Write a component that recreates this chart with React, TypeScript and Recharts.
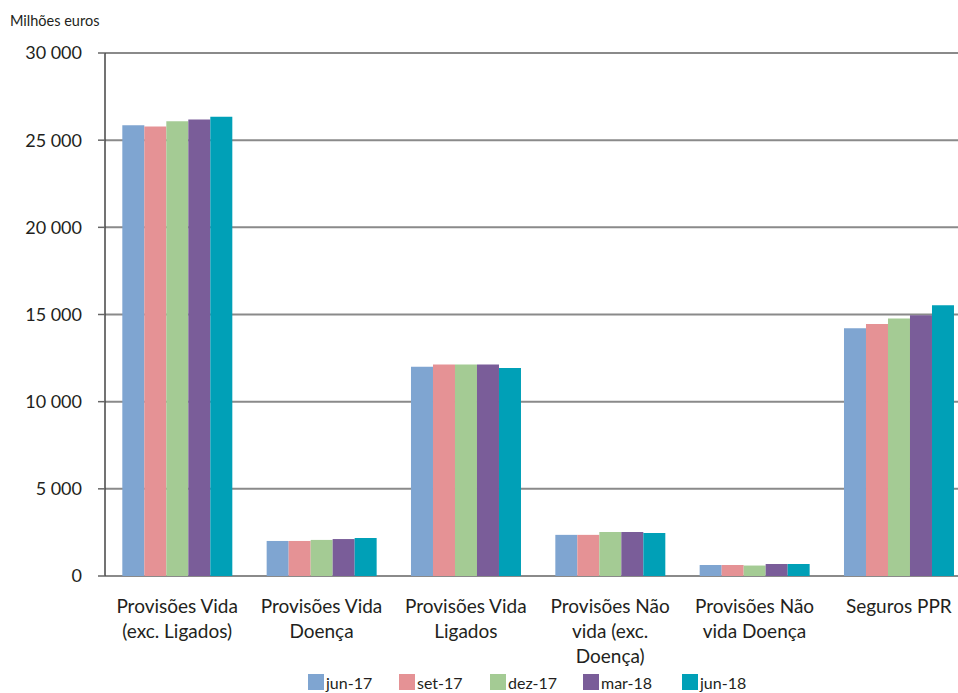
import React from 'react';
import {
  BarChart,
  Bar,
  XAxis,
  YAxis,
  CartesianGrid,
  Legend,
} from 'recharts';

const categories = [
  'Provisões Vida\n(exc. Ligados)',
  'Provisões Vida\nDoença',
  'Provisões Vida\nLigados',
  'Provisões Não\nvida (exc.\nDoença)',
  'Provisões Não\nvida Doença',
  'Seguros PPR',
];

const jun17 = [25850, 2010, 12010, 2360, 630, 14210];
const set17 = [25780, 2010, 12130, 2360, 630, 14460];
const dez17 = [26090, 2070, 12130, 2530, 600, 14770];
const mar18 = [26180, 2120, 12130, 2530, 690, 14960];
const jun18 = [26350, 2180, 11930, 2470, 690, 15530];

const yTicks = [0, 5000, 10000, 15000, 20000, 25000, 30000];
const edgeTicks = [0, 1, 2, 3, 4, 5, 6];

const series = [
  { key: 'jun17', name: 'jun-17', color: '#7fa5d1', values: jun17 },
  { key: 'set17', name: 'set-17', color: '#e59295', values: set17 },
  { key: 'dez17', name: 'dez-17', color: '#a4cb94', values: dez17 },
  { key: 'mar18', name: 'mar-18', color: '#7a5d99', values: mar18 },
  { key: 'jun18', name: 'jun-18', color: '#00a0b7', values: jun18 },
];

const data = categories.map((name, i) => {
  const row: Record<string, string | number> = { name };
  series.forEach((s) => {
    row[s.key] = s.values[i];
  });
  return row;
});

const FONT = 'Lato, "Open Sans", sans-serif';

const fmt = (v: number) =>
  String(v).replace(/\B(?=(\d{3})+(?!\d))/g, ' ');

const CategoryTick = (props: any) => {
  const { x, y, payload } = props;
  const lines = String(payload.value).split('\n');
  return (
    <text
      x={x}
      y={y}
      textAnchor="middle"
      fontSize={19}
      fill="#231f20"
      fontFamily={FONT}
    >
      {lines.map((l, i) => (
        <tspan key={i} x={x} y={y + 35 + i * 25}>
          {l}
        </tspan>
      ))}
    </text>
  );
};

const legendWidths = [91, 91, 93, 99, 80];

const LegendContent = () => (
  <div style={{ display: 'flex', fontFamily: FONT, fontSize: 16, color: '#231f20' }}>
    {series.map((s, i) => (
      <div
        key={s.key}
        style={{ width: legendWidths[i], display: 'flex', alignItems: 'center', height: 18 }}
      >
        <span
          style={{ width: 16, height: 16, background: s.color, marginRight: 2, display: 'inline-block' }}
        />
        <span>{s.name}</span>
      </div>
    ))}
  </div>
);

const App: React.FC = () => {
  return (
    <div
      style={{
        position: 'fixed',
        left: 0,
        top: 0,
        width: 958,
        height: 693,
        overflow: 'hidden',
        background: '#fff',
      }}
    >
      <div
        style={{
          position: 'absolute',
          left: 10,
          top: 12,
          fontFamily: FONT,
          fontSize: 14.5,
          color: '#231f20',
          zIndex: 2,
        }}
      >
        Milhões euros
      </div>
      <div style={{ position: 'absolute', left: 8, top: 8 }}>
        <BarChart
          width={976}
          height={685}
          data={data}
          margin={{ top: 45, right: 13, left: 0, bottom: 0 }}
          barCategoryGap="12%"
          barGap={0}
        >
          <CartesianGrid vertical={false} stroke="#8a8a8a" strokeWidth={2} />
          <XAxis
            xAxisId="edges"
            type="number"
            domain={[0, 6]}
            ticks={edgeTicks}
            height={0}
            tick={false}
            tickSize={7}
            tickLine={{ stroke: '#555', strokeWidth: 1.5 }}
            axisLine={{ stroke: '#444', strokeWidth: 1.5 }}
          />
          <XAxis
            dataKey="name"
            interval={0}
            height={99}
            axisLine={false}
            tickLine={false}
            tickSize={0}
            tick={<CategoryTick />}
          />
          <YAxis
            width={97}
            domain={[0, 30000]}
            ticks={yTicks}
            tickFormatter={fmt}
            tickSize={7}
            tickMargin={16}
            tick={{ fontSize: 18, fill: '#231f20', fontFamily: FONT }}
            tickLine={{ stroke: '#666', strokeWidth: 1.5 }}
            axisLine={{ stroke: '#444', strokeWidth: 1.5 }}
          />
          <Legend
            verticalAlign="bottom"
            content={<LegendContent />}
            wrapperStyle={{ left: 300, width: 460, bottom: 2 }}
          />
          {series.map((s) => (
            <Bar
              key={s.key}
              dataKey={s.key}
              name={s.name}
              fill={s.color}
              isAnimationActive={false}
            />
          ))}
        </BarChart>
      </div>
    </div>
  );
};

export default App;
